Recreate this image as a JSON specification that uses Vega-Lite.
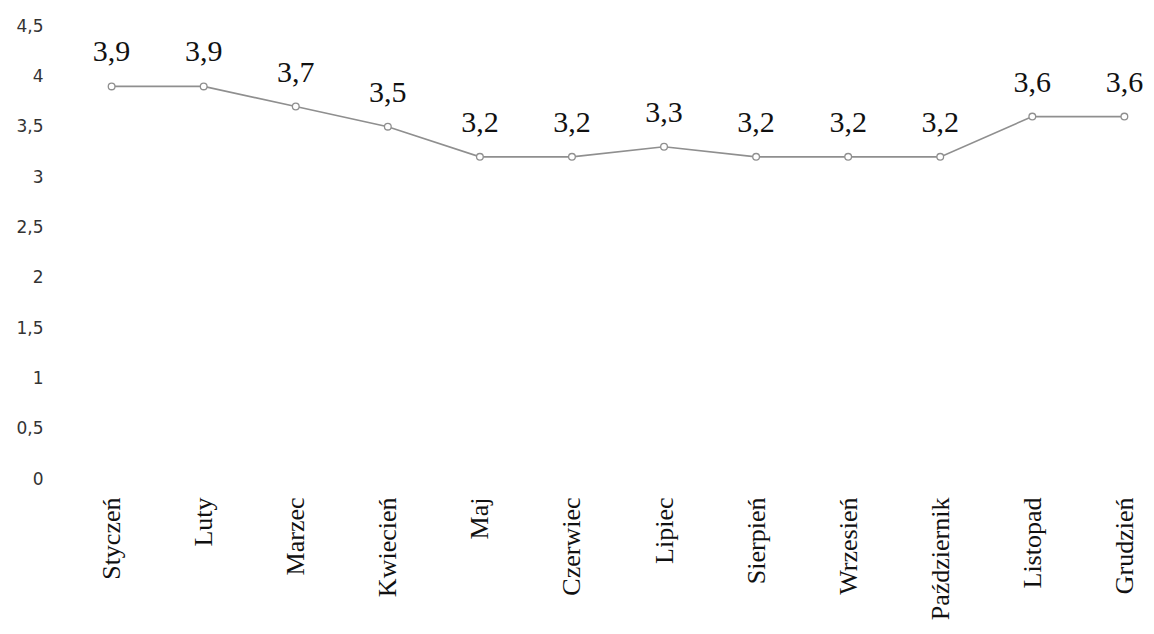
{
  "$schema": "https://vega.github.io/schema/vega-lite/v6.json",
  "autosize": {"type": "none"},
  "padding": {"left": 84, "top": 26, "right": 2, "bottom": 155},
  "width": 1068,
  "height": 453,
  "background": "white",
  "config": {
    "view": {"stroke": null},
    "locale": {"number": {"decimal": ",", "thousands": " ", "grouping": [3], "currency": ["", " zł"]}}
  },
  "data": {
    "values": [
      {"miesiac": "Styczeń", "wartosc": 3.9},
      {"miesiac": "Luty", "wartosc": 3.9},
      {"miesiac": "Marzec", "wartosc": 3.7},
      {"miesiac": "Kwiecień", "wartosc": 3.5},
      {"miesiac": "Maj", "wartosc": 3.2},
      {"miesiac": "Czerwiec", "wartosc": 3.2},
      {"miesiac": "Lipiec", "wartosc": 3.3},
      {"miesiac": "Sierpień", "wartosc": 3.2},
      {"miesiac": "Wrzesień", "wartosc": 3.2},
      {"miesiac": "Październik", "wartosc": 3.2},
      {"miesiac": "Listopad", "wartosc": 3.6},
      {"miesiac": "Grudzień", "wartosc": 3.6}
    ]
  },
  "encoding": {
    "x": {
      "field": "miesiac", "type": "nominal", "sort": null,
      "scale": {"type": "point", "padding": 0.3},
      "axis": {
        "title": null, "domain": false, "ticks": false, "grid": false,
        "labelAngle": -90, "labelAlign": "right", "labelBaseline": "middle",
        "labelFont": "Liberation Serif", "labelFontSize": 26, "labelColor": "#111",
        "labelPadding": 18
      }
    },
    "y": {
      "field": "wartosc", "type": "quantitative",
      "scale": {"domain": [0, 4.5], "nice": false, "zero": true},
      "axis": {
        "title": null, "domain": false, "ticks": false, "grid": false,
        "values": [0, 0.5, 1, 1.5, 2, 2.5, 3, 3.5, 4, 4.5],
        "format": "~g",
        "labelFont": "DejaVu Sans", "labelFontSize": 17, "labelColor": "#333",
        "labelPadding": 41
      }
    }
  },
  "layer": [
    {
      "mark": {"type": "line", "color": "#8f8f8f", "strokeWidth": 1.6}
    },
    {
      "mark": {"type": "point", "shape": "circle", "filled": false, "color": "#8f8f8f", "size": 45, "strokeWidth": 1.3, "fill": "white", "fillOpacity": 1}
    },
    {
      "mark": {"type": "text", "font": "Liberation Serif", "fontSize": 30, "dy": -25, "baseline": "alphabetic", "color": "#111"},
      "encoding": {"text": {"field": "wartosc", "type": "quantitative", "format": ".1f"}}
    }
  ]
}
